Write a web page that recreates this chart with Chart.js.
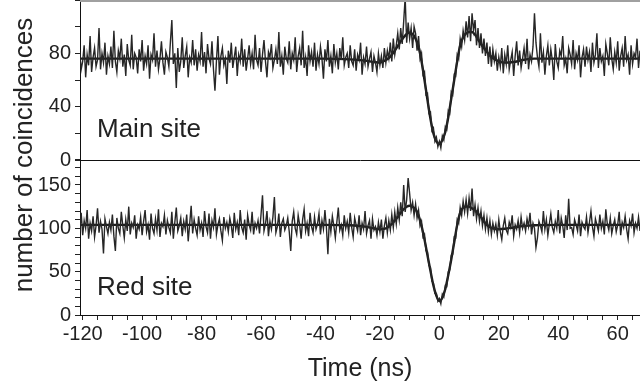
<!DOCTYPE html>
<html lang="en">
<head>
  <meta charset="UTF-8">
  <title>Coincidence histograms</title>
  <script src="https://cdn.jsdelivr.net/npm/chart.js"></script>
  <style>
    body {
      margin: 0;
      background: #fff;
      font-family: "Liberation Sans", Arial, Helvetica, sans-serif;
    }
    .wrap {
      position: relative;
      width: 640px;
      height: 386px;
      overflow: hidden;
    }
    .panel {
      position: absolute;
      left: 0;
      width: 640px;
    }
    .topline {
      position: absolute;
      left: 80px;
      top: 0;
      width: 560px;
      border-top: 2px solid #a0a0a0;
    }
    .site {
      position: absolute;
      left: 97px;
      font-size: 26px;
      line-height: 26px;
      color: #222;
      white-space: nowrap;
    }
    .ytitle {
      position: absolute;
      left: -127px;
      top: 142px;
      width: 300px;
      height: 26px;
      line-height: 26px;
      font-size: 26px;
      text-align: center;
      color: #222;
      transform: rotate(-90deg);
      white-space: nowrap;
    }
  </style>
</head>
<body>
<div class="wrap">
  <div class="panel" style="top:0;height:181px"><canvas id="mainChart"></canvas></div>
  <div class="panel" style="top:159px;height:227px"><canvas id="redChart"></canvas></div>
  <div class="topline"></div>
  <div class="site" style="top:115px">Main site</div>
  <div class="site" style="top:273px">Red site</div>
  <div class="ytitle">number of coincidences</div>
</div>

<script>
  // Histogram bins: 0.5 ns wide, first bin at -121 ns
  const binStart = -121;
  const binWidth = 0.5;

  // Coincidence counts per bin, main site
  const mainCounts = [
    81,68,74,86,62,79,71,93,66,77,84,70,75,99,68,80,73,88,64,78,
    72,85,69,97,74,66,82,76,91,70,79,63,87,75,71,94,68,80,77,65,
    83,74,90,67,78,72,86,61,79,75,95,70,82,68,76,89,73,64,81,77,
    70,88,105,72,80,54,84,66,74,92,69,78,85,62,77,73,90,71,83,67,
    79,74,96,70,81,65,87,76,72,89,68,52,74,93,64,78,84,71,76,57,
    82,73,88,69,77,85,63,79,74,91,70,83,67,76,86,72,80,68,94,75,
    71,84,66,79,90,74,62,81,77,87,69,75,83,72,96,70,78,64,85,76,
    73,89,68,80,75,92,66,78,84,71,97,69,77,63,86,74,81,70,88,67,
    79,72,85,76,61,83,74,90,70,78,65,87,73,80,68,84,75,92,71,77,
    80,69,86,74,71,83,67,79,75,88,64,77,72,85,70,76,81,66,78,73,
    66,80,71,78,69,84,73,82,76,88,74,91,79,86,95,83,99,87,104,122,
    88,103,91,99,84,100,95,82,93,76,80,64,66,49,50,35,36,22,24,14,
    17,10,14,9,18,15,25,23,37,35,51,49,64,63,79,76,91,85,97,90,
    104,92,108,89,110,97,105,86,99,84,95,80,91,78,88,72,85,70,83,74,
    80,67,77,70,84,65,79,72,86,68,75,81,63,78,89,71,82,69,76,84,
    72,91,68,79,74,85,110,88,77,70,95,73,81,64,78,86,71,83,75,60,
    87,74,69,82,78,93,71,76,65,84,79,72,90,68,80,75,86,62,77,83,
    70,85,75,81,66,88,73,79,95,69,84,74,78,63,87,80,71,92,76,68,
    81,73,89,67,78,84,70,93,75,79,64,86,72,80,77,91,69,82,74
  ];

  // Coincidence counts per bin, red site
  const redCounts = [
    96,118,92,109,100,121,88,106,97,114,90,103,123,95,108,99,71,111,102,94,
    107,98,116,91,74,112,100,94,119,103,89,110,97,125,93,106,101,115,88,104,
    99,113,92,108,121,96,104,87,117,100,94,111,98,122,90,106,102,115,93,109,
    101,95,119,88,107,124,97,103,112,91,108,99,116,85,105,126,94,110,100,92,
    114,98,106,90,120,102,95,117,88,109,101,123,93,104,111,97,86,113,100,107,
    96,112,103,89,118,99,107,92,121,101,95,110,87,115,104,98,119,93,106,100,
    109,94,116,138,97,105,120,91,108,99,113,136,95,102,117,90,106,111,98,103,
    112,96,74,108,119,100,93,115,104,88,110,122,97,106,91,118,102,95,113,99,
    105,117,93,109,99,121,101,70,111,96,114,103,89,107,124,98,104,92,115,100,
    108,95,118,101,90,112,104,97,115,92,106,99,120,94,103,109,88,111,98,102,
    92,107,96,110,88,103,112,95,109,98,116,101,119,105,124,110,130,114,150,119,
    133,158,140,121,130,115,128,112,121,103,108,90,93,74,73,57,55,39,37,25,
    25,16,19,13,24,21,34,33,50,52,69,70,90,89,110,106,124,115,131,119,
    133,117,135,120,146,114,127,111,124,108,120,103,115,99,112,96,109,93,106,97,
    105,92,110,96,87,103,112,98,94,107,101,115,91,104,99,109,95,113,100,106,
    97,111,102,118,93,106,100,78,89,108,103,96,120,99,110,92,105,117,101,95,
    108,100,121,94,112,103,89,115,98,134,100,101,93,110,104,97,116,91,107,102,
    99,113,95,107,120,102,91,111,104,97,116,100,108,93,122,105,98,112,94,103,
    110,96,104,119,92,107,101,114,99,88,109,103,117,95,106,100,113,97,105
  ];

  // Fitted model curves, sampled at these delays (ns)
  const fitTimes = [-121,-40,-30,-25,-22,-20,-18,-17,-16,-15,-14,-13,-12,-11,-10,-9,-8,-7,-6,-5,
    -4,-3,-2,-1,0,1,2,3,4,5,6,7,8,9,10,11,12,13,14,15,16,17,18,20,22,25,28,32,40,68];
  const mainFit = [76,76,75.5,74.5,73.5,73,75,76.5,79,82,85.5,89,92,94.5,95.5,94.5,91,85,74,60,
    45,31,20,14,12,15,21,32,46,60,74,86,92,95,96,96,94,90.5,87,84,81,78.5,76.5,74,73,73.5,75,76,76,76];
  const redFit = [104,104,103.5,102,100,99,100,102,105,109,113,118,122,125,126,125,122,115,103,87,
    69,51,34,22,16,20,30,46,64,84,104,118,124,125,125,123,121,117,113,108,104,101.5,100,99,99.5,101,102.5,103.5,104,104];

  // Axis ranges
  const timeRange = [-120.9, 67.5];
  const mainRange = [0, 120];
  const redRange = [0, 180];

  const toPoints = counts => counts.map((c, i) => ({ x: binStart + i * binWidth, y: c }));
  const fitPoints = vals => vals.map((v, i) => ({ x: fitTimes[i], y: v }));

  const fontFamily = '"Liberation Sans", Arial, Helvetica, sans-serif';
  Chart.defaults.font.family = fontFamily;
  Chart.defaults.color = '#222';

  function makePanel(canvasId, counts, fit, yRange, yStep, yLabelStep, isBottom) {
    const ctx = document.getElementById(canvasId).getContext('2d');
    return new Chart(ctx, {
      type: 'line',
      data: {
        datasets: [
          {
            data: toPoints(counts),
            borderColor: '#262626',
            borderWidth: 1.4,
            pointRadius: 0,
            tension: 0
          },
          {
            data: fitPoints(fit),
            borderColor: '#1a1a1a',
            borderWidth: 2.4,
            pointRadius: 0,
            cubicInterpolationMode: 'monotone'
          }
        ]
      },
      options: {
        responsive: true,
        maintainAspectRatio: false,
        animation: false,
        events: [],
        layout: { padding: { left: 0, right: 0, top: 0, bottom: isBottom ? 0 : 21 } },
        plugins: { legend: { display: false }, tooltip: { enabled: false } },
        scales: {
          x: {
            type: 'linear',
            min: timeRange[0],
            max: timeRange[1],
            grid: { drawOnChartArea: false, drawTicks: isBottom, tickLength: 5, color: '#222' },
            border: { display: true, color: '#111', width: 1 },
            ticks: {
              display: isBottom,
              stepSize: 5,
              includeBounds: false,
              maxRotation: 0,
              autoSkip: false,
              padding: 2,
              font: { size: 20 },
              callback: v => (v % 20 === 0 ? v : '')
            },
            title: {
              display: isBottom,
              text: 'Time (ns)',
              font: { size: 25 },
              padding: { top: 6, bottom: 2 }
            }
          },
          y: {
            min: yRange[0],
            max: yRange[1],
            grid: { drawOnChartArea: false, drawTicks: true, tickLength: 5, color: '#222' },
            border: { display: true, color: '#111', width: 1 },
            ticks: {
              stepSize: yStep,
              autoSkip: false,
              padding: 4,
              font: { size: 20 },
              callback: v => (v % yLabelStep === 0 && v < yRange[1] ? v : '')
            },
            afterFit: scale => {
              scale.width = 80;
              scale.paddingTop = 0;
              scale.paddingBottom = 0;
            }
          }
        }
      }
    });
  }

  makePanel('mainChart', mainCounts, mainFit, mainRange, 20, 40, false);
  makePanel('redChart', redCounts, redFit, redRange, 10, 50, true);
</script>
</body>
</html>
